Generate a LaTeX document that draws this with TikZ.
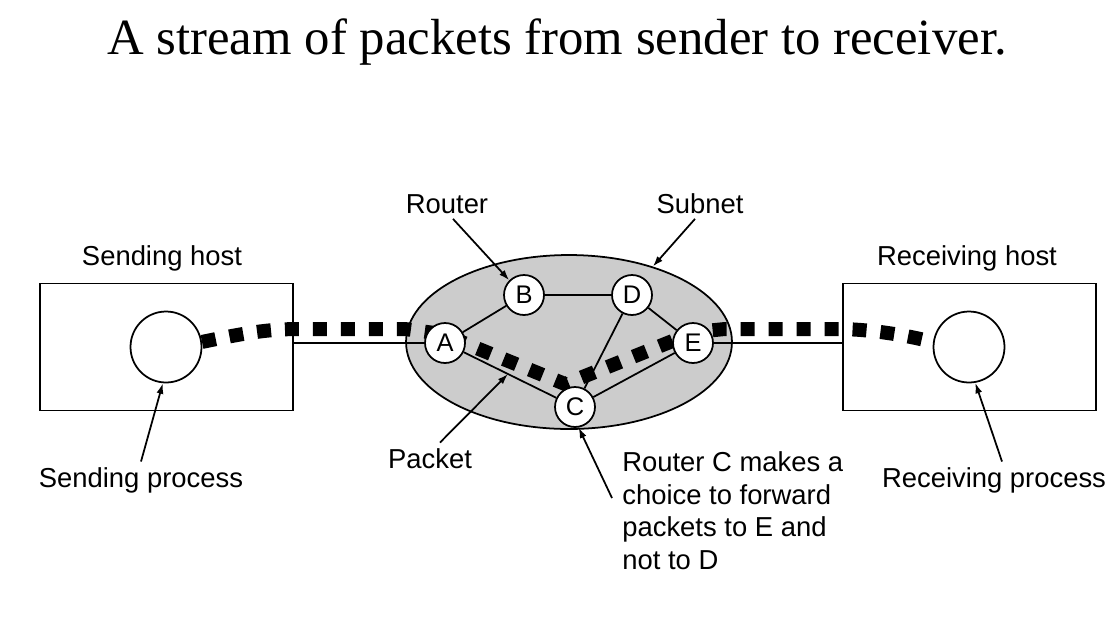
\documentclass[tikz,border=0pt]{standalone}
\usepackage{fontspec}
\setmainfont{Liberation Serif}
\newfontfamily\labelfont{Liberation Sans}
\usetikzlibrary{arrows.meta}
\usetikzlibrary{shapes.geometric}
\pgfdeclarelayer{bg}
\pgfsetlayers{bg,main}
\tikzset{router/.style = {draw, circle, fill = white, inner sep = 0, minimum size = 0.8cm, line width = 1pt, font = \labelfont\fontsize{14.5}{17}\selectfont}}
\tikzset{hostbox/.style = {draw, line width = 1pt, minimum width = 5.06cm, minimum height = 2.54cm}}
\tikzset{proc/.style = {draw, circle, line width = 1pt, inner sep = 0, minimum size = 1.42cm}}
\tikzset{lbl/.style = {anchor = base, inner sep = 3pt, font = \labelfont\fontsize{15.6}{18.7}\selectfont}}
\tikzset{pointer/.style = {-{Latex[length = 6pt, width = 4pt]}, line width = 1pt}}
\tikzset{packets/.style = {line width = 0.28cm, dash pattern = on 0.28cm off 0.28cm}}

\begin{document}
\begin{tikzpicture}[x = 0.02cm, y = -0.02cm]
  \useasboundingbox (0, 0) rectangle (1116, 620);

  \node [anchor = base, inner sep = 0, font = \fontsize{28.9}{34}\selectfont] (title) at (557, 54) {A stream of packets from sender to receiver.};

  % hosts
  \node [hostbox] (shost) at (166.5, 347) {};
  \node [hostbox] (rhost) at (969.5, 347) {};
  \node [proc] (sproc) at (166, 347) {};
  \node [proc] (rproc) at (969, 347) {};

  % routers
  \node [router] (A) at (445, 343) {A};
  \node [router] (B) at (524, 295) {B};
  \node [router] (C) at (575, 407) {C};
  \node [router] (D) at (632, 295) {D};
  \node [router] (E) at (693, 343) {E};
  \coordinate (pkt) at (508, 374);

  \begin{pgfonlayer}{bg}
    \node [draw, ellipse, fill = black!20, line width = 1pt, minimum width = 6.52cm, minimum height = 3.48cm] (subnet) at (569, 342) {};
    \draw [line width = 1pt] (A) -- (B) -- (D) -- (E) -- (C) -- (A);
    \draw [line width = 1pt] (D) -- (C);
    \draw [line width = 1pt] (shost.east |- A) -- (A);
    \draw [line width = 1pt] (E) -- (rhost.west |- E);
    \draw [packets] (sproc.8) .. controls (245, 333) and (268, 329) .. (300, 329) -- (405, 329) -- (442, 334)
      -- (565, 384) -- (695, 332) -- (725, 329) -- (843, 329) .. controls (875, 330) and (905, 335) .. (rproc.172);
  \end{pgfonlayer}

  % labels
  \node [lbl] (shostlbl) at (162, 265) {Sending host};
  \node [lbl] (rhostlbl) at (967, 265) {Receiving host};
  \node [lbl] (sproclbl) at (141, 487) {Sending process};
  \node [lbl] (rproclbl) at (994, 487) {Receiving process};
  \node [lbl] (routerlbl) at (447, 213) {Router};
  \node [lbl] (subnetlbl) at (700, 213) {Subnet};
  \node [lbl] (packetlbl) at (430, 468) {Packet};
  \node [lbl, anchor = north west, align = left, inner sep = 0] (choicelbl) at (622, 451) {Router C makes a\\choice to forward\\packets to E and\\not to D};

  \draw [pointer] (sproclbl.north) -- (sproc.-95);
  \draw [pointer] ([xshift = 0.16cm]rproclbl.north) -- (rproc.-80);
  \draw [pointer] ([xshift = 0.12cm]routerlbl.south) -- (B.135);
  \draw [pointer] ([xshift = -0.1cm]subnetlbl.south) -- (subnet.42);
  \draw [pointer] ([xshift = 0.2cm]packetlbl.north) -- (pkt);
  \draw [pointer] ([shift = {(-10, 47)}]choicelbl.north west) -- (C.-80);
\end{tikzpicture}
\end{document}
